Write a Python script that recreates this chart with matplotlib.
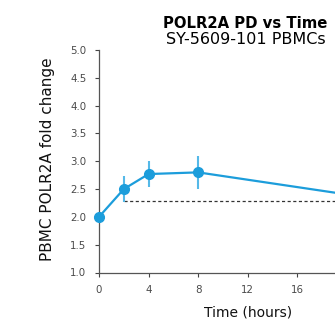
import matplotlib.pyplot as plt
import numpy as np

plt.rcParams['font.family'] = ['DejaVu Sans']

# data
time_h = [0, 2, 4, 8, 24]
fold_change = [2.0, 2.50, 2.77, 2.80, 2.27]
err = [0.0, 0.23, 0.23, 0.29, 0.25]
threshold = 2.29
threshold_x = [2, 24]

x_ticks = [0, 4, 8, 12, 16]
y_ticks = [1.0, 1.5, 2.0, 2.5, 3.0, 3.5, 4.0, 4.5, 5.0]

blue = "#1c9ddb"
err_blue = "#55b9e8"
tick_grey = "#4a4a4a"

fig = plt.figure(figsize=(3.35, 3.24), dpi=100)
# axes runs past the right edge, like the cropped original
ax = fig.add_axes([99/335, 1 - 272.5/324, 297.6/335, 222.5/324])

ax.plot(threshold_x, [threshold, threshold], color='#333333', linestyle=(0, (2.5, 2)), linewidth=0.9)
ax.errorbar(time_h, fold_change, yerr=err, fmt='none', ecolor=err_blue, elinewidth=1.5, capsize=0, zorder=3)
ax.plot(time_h, fold_change, color=blue, linewidth=1.6, marker='o', markersize=7, zorder=4, clip_on=False)

ax.set_xlim(0, 24)
ax.set_ylim(1.0, 5.0)
ax.set_xticks(x_ticks)
ax.set_yticks(y_ticks)
ax.set_yticklabels(["%.1f" % v for v in y_ticks])
ax.tick_params(labelsize=7.4, colors='#444444', labelcolor=tick_grey, length=3, width=0.8)
ax.tick_params(axis='y', pad=6)
ax.tick_params(axis='x', pad=6)

for s in ['top', 'right']:
    ax.spines[s].set_visible(False)
for s in ['left', 'bottom']:
    ax.spines[s].set_color('#555555')
    ax.spines[s].set_linewidth(0.9)

ax.set_xlabel("Time (hours)", fontsize=10, color='#111111', va='center')
ax.xaxis.set_label_coords(0.5, -40/222.5)
ax.set_ylabel("PBMC POLR2A fold change", fontsize=11, color='#111111', va='center')
ax.yaxis.set_label_coords(-51/297.6, 0.51)

fig.text(245/335, 1 - 23/324, "POLR2A PD vs Time", ha='center', va='center', fontsize=10.7, fontweight='bold')
fig.text(246/335, 1 - 39/324, "SY-5609-101 PBMCs", ha='center', va='center', fontsize=11.5)

fig.savefig("out.png", dpi=100)
